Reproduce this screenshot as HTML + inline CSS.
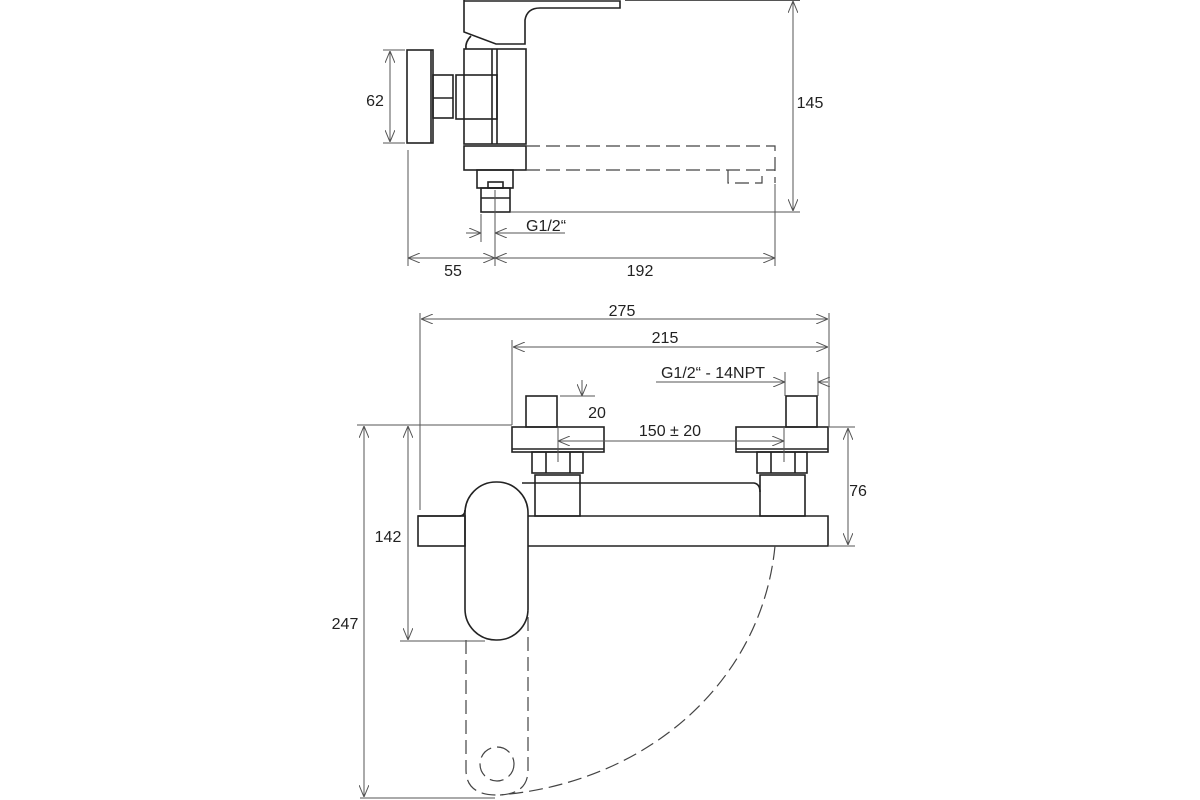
<!DOCTYPE html>
<html><head><meta charset="utf-8"><style>
html,body{margin:0;padding:0;background:#fff}
svg{display:block}
text{font-family:"Liberation Sans",sans-serif;font-size:16px;fill:#222}
</style></head><body>
<svg width="1200" height="800" viewBox="0 0 1200 800" xmlns="http://www.w3.org/2000/svg">
<defs>
<marker id="a" viewBox="0 0 12 10" refX="12" refY="5" markerWidth="12" markerHeight="10" orient="auto-start-reverse" markerUnits="userSpaceOnUse">
<path d="M0 0 L12 5 L0 10" fill="none" stroke="#555" stroke-width="1"/>
</marker>
</defs>
<g fill="none" stroke="#222" stroke-width="1.6">
<!-- TOP VIEW -->
<path d="M464 0 V32 L496 44 H525 V20 Q527 8 540 8 H620 V1 H464"/>
<path d="M471 36 Q465 42 466 49"/>
<rect x="464" y="49" width="62" height="95"/>
<line x1="492" y1="49" x2="492" y2="144"/><line x1="497" y1="49" x2="497" y2="144"/>
<rect x="456" y="75" width="41" height="44"/>
<rect x="433" y="75" width="20" height="43"/>
<line x1="433" y1="98" x2="453" y2="98"/>
<rect x="407" y="50" width="26" height="93"/>
<line x1="431" y1="50" x2="431" y2="143"/>
<rect x="464" y="146" width="62" height="24"/>
<rect x="477" y="170" width="36" height="18"/>
<rect x="488" y="182" width="15" height="6"/>
<rect x="481" y="188" width="29" height="24"/>
<line x1="481" y1="198" x2="510" y2="198"/>
</g>
<g fill="none" stroke="#444" stroke-width="1.2" stroke-dasharray="14,6">
<path d="M526 146 H775 V183"/>
<path d="M526 170 H775"/>
<path d="M728 170 V183 H762 V170"/>
</g>
<g fill="none" stroke="#555" stroke-width="1">
<line x1="625" y1="0.5" x2="800" y2="0.5"/>
<line x1="510" y1="212" x2="800" y2="212"/>
<line x1="793" y1="1" x2="793" y2="211" marker-start="url(#a)" marker-end="url(#a)"/>
<line x1="383" y1="50" x2="405" y2="50"/><line x1="383" y1="143" x2="405" y2="143"/>
<line x1="390" y1="51" x2="390" y2="142" marker-start="url(#a)" marker-end="url(#a)"/>
<line x1="481" y1="214" x2="481" y2="242"/><line x1="495" y1="190" x2="495" y2="266"/>
<line x1="466" y1="233" x2="481" y2="233" marker-end="url(#a)"/>
<line x1="565" y1="233" x2="495" y2="233" marker-end="url(#a)"/>
<line x1="408" y1="150" x2="408" y2="266"/><line x1="775" y1="184" x2="775" y2="266"/>
<line x1="408" y1="258" x2="495" y2="258" marker-start="url(#a)" marker-end="url(#a)"/>
<line x1="495" y1="258" x2="775" y2="258" marker-start="url(#a)" marker-end="url(#a)"/>
</g>
<text x="810" y="108" text-anchor="middle">145</text>
<text x="375" y="106" text-anchor="middle">62</text>
<text x="526" y="231">G1/2“</text>
<text x="453" y="276" text-anchor="middle">55</text>
<text x="640" y="276" text-anchor="middle">192</text>

<!-- FRONT VIEW -->
<g fill="none" stroke="#222" stroke-width="1.6">
<path d="M418 516 H459 Q465 516 465 510"/>
<rect x="418" y="516" width="47" height="30"/>
<rect x="465" y="482" width="63" height="158" rx="31" ry="31"/>
<path d="M528 516 H828 V546 H528"/>
<path d="M522 483 H754 Q760 484 760 492"/>
<rect x="535" y="475" width="45" height="41"/>
<rect x="760" y="475" width="45" height="41"/>
<rect x="532" y="452" width="51" height="21"/>
<line x1="546" y1="452" x2="546" y2="473"/><line x1="570" y1="452" x2="570" y2="473"/>
<rect x="757" y="452" width="50" height="21"/>
<line x1="771" y1="452" x2="771" y2="473"/><line x1="795" y1="452" x2="795" y2="473"/>
<rect x="512" y="427" width="92" height="25"/><line x1="512" y1="449" x2="604" y2="449"/>
<rect x="736" y="427" width="92" height="25"/><line x1="736" y1="449" x2="828" y2="449"/>
<rect x="526" y="396" width="31" height="31"/>
<rect x="786" y="396" width="31" height="31"/>
</g>
<g fill="none" stroke="#444" stroke-width="1.2" stroke-dasharray="14,6">
<path d="M466 640 V770 Q466 795 497 795 Q528 795 528 770 V610"/>
<circle cx="497" cy="764" r="17"/>
<path d="M775 546 C762 680 650 782 500 795"/>
</g>
<g fill="none" stroke="#555" stroke-width="1">
<line x1="420" y1="313" x2="420" y2="510"/>
<line x1="512" y1="340" x2="512" y2="425"/>
<line x1="829" y1="313" x2="829" y2="427"/>
<line x1="421" y1="319" x2="828" y2="319" marker-start="url(#a)" marker-end="url(#a)"/>
<line x1="513" y1="347" x2="828" y2="347" marker-start="url(#a)" marker-end="url(#a)"/>
<line x1="656" y1="382" x2="785" y2="382" marker-end="url(#a)"/>
<line x1="828" y1="382" x2="818" y2="382" marker-end="url(#a)"/>
<line x1="785" y1="372" x2="785" y2="396"/><line x1="818" y1="372" x2="818" y2="396"/>
<line x1="582" y1="380" x2="582" y2="396" marker-end="url(#a)"/>
<line x1="560" y1="396" x2="595" y2="396"/>
<line x1="558" y1="427" x2="558" y2="462"/><line x1="784" y1="427" x2="784" y2="462"/>
<line x1="558" y1="441" x2="784" y2="441" marker-start="url(#a)" marker-end="url(#a)"/>
<line x1="828" y1="427" x2="855" y2="427"/><line x1="828" y1="546" x2="855" y2="546"/>
<line x1="848" y1="428" x2="848" y2="545" marker-start="url(#a)" marker-end="url(#a)"/>
<line x1="357" y1="425" x2="512" y2="425"/>
<line x1="400" y1="641" x2="485" y2="641"/>
<line x1="360" y1="798" x2="495" y2="798"/>
<line x1="408" y1="426" x2="408" y2="640" marker-start="url(#a)" marker-end="url(#a)"/>
<line x1="364" y1="426" x2="364" y2="797" marker-start="url(#a)" marker-end="url(#a)"/>
</g>
<text x="622" y="316" text-anchor="middle">275</text>
<text x="665" y="343" text-anchor="middle">215</text>
<text x="713" y="378" text-anchor="middle">G1/2“ - 14NPT</text>
<text x="597" y="418" text-anchor="middle">20</text>
<text x="670" y="436" text-anchor="middle">150 ± 20</text>
<text x="858" y="496" text-anchor="middle">76</text>
<text x="388" y="542" text-anchor="middle">142</text>
<text x="345" y="629" text-anchor="middle">247</text>
</svg>
</body></html>
